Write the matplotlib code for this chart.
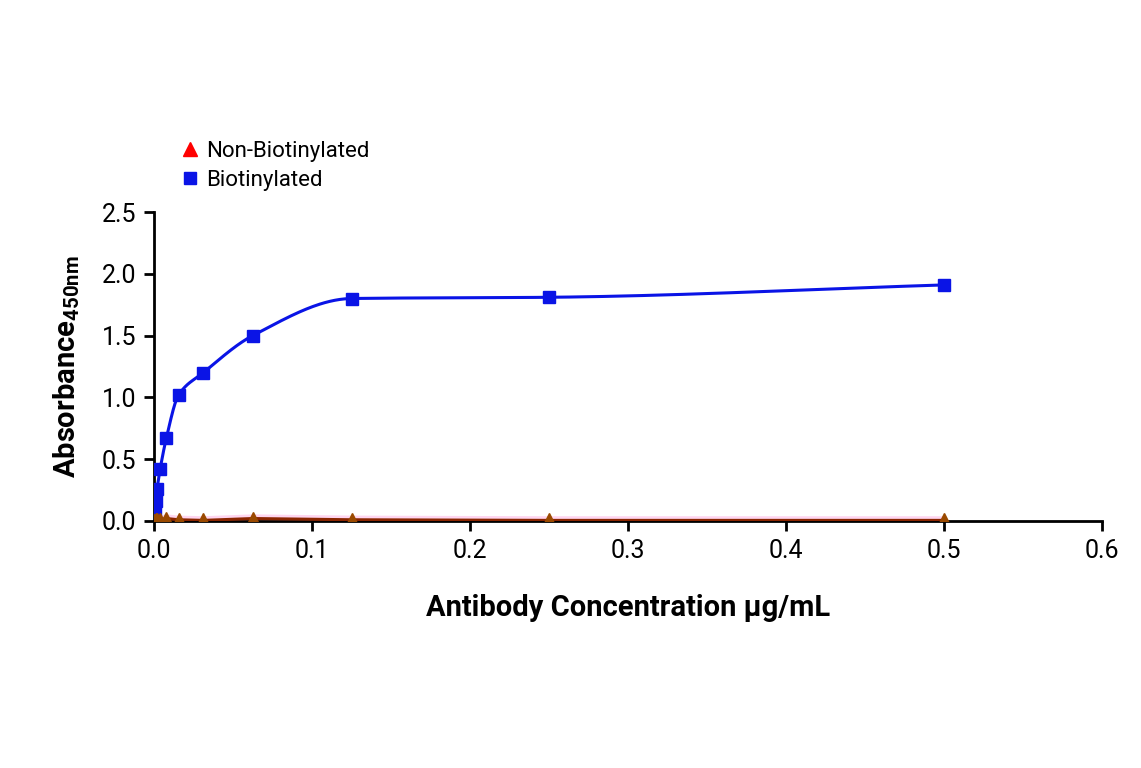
import numpy as np
import matplotlib
matplotlib.use("Agg")
import matplotlib.pyplot as plt

plt.rcParams['font.family'] = ['Roboto', 'DejaVu Sans']

conc = [0.000244, 0.000488, 0.000977, 0.00195, 0.0039, 0.0078, 0.0156, 0.03125, 0.0625, 0.125, 0.25, 0.5]
biot = [0.05, 0.10, 0.16, 0.26, 0.42, 0.67, 1.02, 1.20, 1.50, 1.80, 1.81, 1.91]
nonbiot = [0.0, 0.0, 0.01, 0.01, 0.01, 0.02, 0.01, 0.005, 0.02, 0.01, 0.005, 0.005]

def pchip(x, y, n=60):
    x = np.asarray(x, float); y = np.asarray(y, float)
    h = np.diff(x); d = np.diff(y) / h
    m = np.zeros_like(y)
    for i in range(1, len(x) - 1):
        if d[i - 1] * d[i] > 0:
            w1 = 2 * h[i] + h[i - 1]; w2 = h[i] + 2 * h[i - 1]
            m[i] = (w1 + w2) / (w1 / d[i - 1] + w2 / d[i])
    m[0] = d[0]; m[-1] = d[-1]
    xs, ys = [], []
    for i in range(len(x) - 1):
        t = np.linspace(0, 1, n)
        h00 = 2*t**3 - 3*t**2 + 1; h10 = t**3 - 2*t**2 + t
        h01 = -2*t**3 + 3*t**2; h11 = t**3 - t**2
        xs.append(x[i] + t * h[i])
        ys.append(h00*y[i] + h10*h[i]*m[i] + h01*y[i+1] + h11*h[i]*m[i+1])
    return np.concatenate(xs), np.concatenate(ys)

fig = plt.figure(figsize=(11.41, 7.68), dpi=100)
ax = fig.add_axes([154/1141, 1-521/768, (1102-154)/1141, (521-212)/768])

sx, sy = pchip(conc, biot)
ax.plot(sx, sy, color='#0a14e6', lw=2.2, zorder=3)
ax.plot(conc, biot, 's', color='#0a14e6', ms=8, zorder=4, ls='none')
ax.plot(conc, nonbiot, color='#ffd6f0', lw=6, solid_capstyle='butt', zorder=2)
ax.plot(conc, nonbiot, color='#8b2500', lw=2.2, zorder=3)
ax.plot(conc, nonbiot, '^', color='#9a4a00', ms=10, zorder=4, ls='none')

ax.set_xlim(0, 0.6); ax.set_ylim(0, 2.5)
ax.set_xticks([0, 0.1, 0.2, 0.3, 0.4, 0.5, 0.6])
ax.set_xticklabels(['0.0', '0.1', '0.2', '0.3', '0.4', '0.5', '0.6'])
ax.set_yticks([0, 0.5, 1.0, 1.5, 2.0, 2.5])
ax.set_yticklabels(['0.0', '0.5', '1.0', '1.5', '2.0', '2.5'])
for s in ['top', 'right']:
    ax.spines[s].set_visible(False)
for s in ['left', 'bottom']:
    ax.spines[s].set_linewidth(2)
ax.tick_params(width=2, length=7, labelsize=18, pad=6)
ax.set_xlabel('Antibody Concentration µg/mL', fontsize=21, fontweight='bold', labelpad=22)
ax.set_ylabel('Absorbance$_{\\mathregular{450nm}}$', fontsize=21, fontweight='bold', labelpad=14)

from matplotlib.lines import Line2D
h = [Line2D([], [], marker='^', color='red', ls='none', ms=10),
     Line2D([], [], marker='s', color='#0a14e6', ls='none', ms=9)]
fig.legend(h, ['Non-Biotinylated', 'Biotinylated'], loc='upper left',
           bbox_to_anchor=(166/1141, 1-130/768), frameon=False, fontsize=16,
           handletextpad=0.1, labelspacing=0.35, borderpad=0, handlelength=1.2)
fig.savefig('out.png', dpi=100)
